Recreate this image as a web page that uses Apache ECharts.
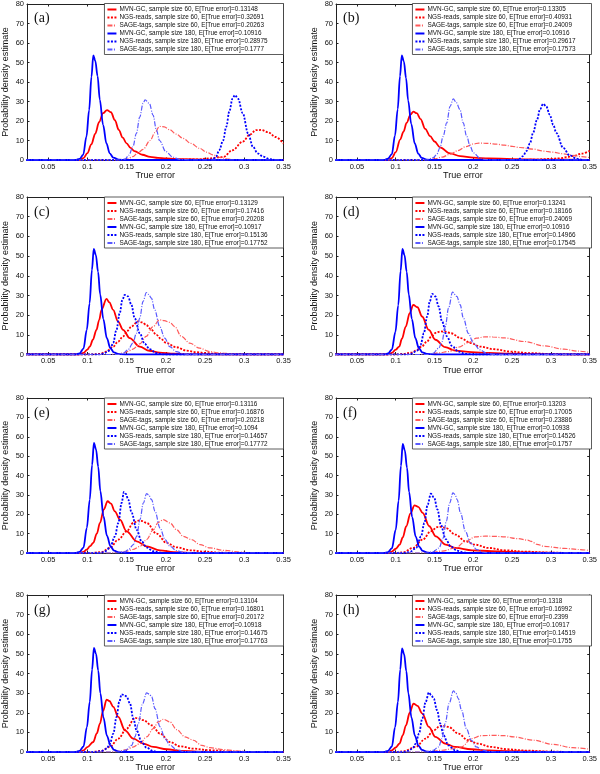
<!DOCTYPE html>
<html>
<head>
<meta charset="utf-8">
<script src="https://cdn.jsdelivr.net/npm/echarts@6/dist/echarts.min.js"></script>
<style>
html,body{margin:0;padding:0;background:#fff;}
#chart{width:600px;height:774px;}
</style>
</head>
<body>
<div id="chart"></div>
<script>
// ---------- tick labels / categories ----------
const xTickValues = [0.05, 0.1, 0.15, 0.2, 0.25, 0.3, 0.35];
const xMin = 0.023, xMax = 0.35;
const yMin = 0, yMax = 80, yStep = 10;
const panelLabels = ['(a)', '(b)', '(c)', '(d)', '(e)', '(f)', '(g)', '(h)'];
const methods = ['MVN-GC', 'NGS-reads', 'SAGE-tags'];
const sampleSizes = [60, 180];

// E[True error] values printed in each legend (order: MVN60, NGS60, SAGE60, MVN180, NGS180, SAGE180)
const err_a = ['0.13148', '0.32691', '0.20263', '0.10916', '0.28975', '0.1777'];
const err_b = ['0.13305', '0.40931', '0.24009', '0.10916', '0.29617', '0.17573'];
const err_c = ['0.13129', '0.17416', '0.20208', '0.10917', '0.15136', '0.17752'];
const err_d = ['0.13241', '0.18166', '0.24069', '0.10916', '0.14966', '0.17545'];
const err_e = ['0.13116', '0.16876', '0.20218', '0.1094', '0.14657', '0.17772'];
const err_f = ['0.13203', '0.17005', '0.23886', '0.10938', '0.14526', '0.1757'];
const err_g = ['0.13104', '0.16801', '0.20172', '0.10918', '0.14675', '0.17763'];
const err_h = ['0.1318', '0.16992', '0.2399', '0.10917', '0.14519', '0.1755'];

// ---------- density curves [true error, density] ----------
// (a)
const a_mvn60 = [[0.02,0],[0.09,0],[0.095,1],[0.1,3.5],[0.105,8],[0.11,13.5],[0.115,19.5],[0.12,24],[0.125,25.6],[0.13,24.5],[0.135,20.5],[0.14,15.5],[0.145,11.5],[0.15,8.5],[0.155,6.2],[0.16,4.6],[0.17,2.7],[0.18,1.6],[0.19,1.1],[0.2,0.8],[0.22,0.4],[0.25,0.15],[0.28,0],[0.35,0]];
const a_ngs60 = [[0.02,0],[0.2,0],[0.24,0.3],[0.255,0.8],[0.265,1.3],[0.273,1.5],[0.285,5],[0.298,9.4],[0.307,13],[0.315,15.3],[0.322,15.4],[0.33,14.3],[0.34,11.8],[0.35,8.4]];
const a_sage60 = [[0.02,0],[0.14,0],[0.15,0.4],[0.158,1.7],[0.164,3.5],[0.171,5.5],[0.18,10],[0.186,14],[0.192,17.2],[0.198,17],[0.205,15.5],[0.213,13.3],[0.222,11.1],[0.232,8.5],[0.243,6],[0.252,4],[0.26,2.6],[0.27,1.2],[0.28,0.4],[0.29,0],[0.35,0]];
const a_mvn180 = [[0.02,0],[0.085,0],[0.09,0.6],[0.0946,2.6],[0.0988,12],[0.1022,25.6],[0.1052,42.7],[0.1075,53.7],[0.11,51],[0.113,43],[0.1158,31],[0.12,18],[0.1243,8.5],[0.1285,3.4],[0.133,1.2],[0.14,0.2],[0.15,0],[0.35,0]];
const a_ngs180 = [[0.02,0],[0.255,0],[0.26,0.3],[0.264,1.7],[0.268,5],[0.273,10],[0.277,17],[0.281,25],[0.285,31.5],[0.288,33.3],[0.292,31.5],[0.298,24],[0.305,13.5],[0.311,6.8],[0.317,3.4],[0.324,1.7],[0.332,0.5],[0.34,0],[0.35,0]];
const a_sage180 = [[0.02,0],[0.14,0],[0.148,0.5],[0.153,2.5],[0.158,6.8],[0.1625,13.7],[0.1667,22],[0.171,29],[0.1735,30.8],[0.179,29],[0.1837,23],[0.188,15.4],[0.192,10],[0.2,4.3],[0.209,1.4],[0.218,0.3],[0.23,0],[0.35,0]];
// (b)
const b_mvn60 = [[0.02,0],[0.09,0],[0.095,1],[0.1,4],[0.1057,10.5],[0.11,14.5],[0.114,19],[0.119,23.3],[0.1228,24.8],[0.127,24],[0.132,21],[0.138,16],[0.1443,12.2],[0.15,9.5],[0.157,6.5],[0.17,3.4],[0.183,2],[0.2,1.2],[0.22,0.8],[0.25,0.5],[0.3,0.2],[0.35,0.05]];
const b_ngs60 = [[0.02,0],[0.26,0],[0.28,0.2],[0.29,0.4],[0.3,0.6],[0.311,0.85],[0.32,1.4],[0.328,2],[0.34,3.3],[0.35,4.7]];
const b_sage60 = [[0.02,0],[0.13,0],[0.14,0.2],[0.15,0.6],[0.16,1.5],[0.17,3],[0.18,4.8],[0.19,6.8],[0.2,8.2],[0.207,8.7],[0.22,8.5],[0.23,8.1],[0.24,7.6],[0.25,7],[0.26,6.4],[0.277,5.6],[0.29,4.6],[0.303,4],[0.315,3.2],[0.328,2.4],[0.34,1.7],[0.35,1.2]];
const b_mvn180 = [[0.02,0],[0.085,0],[0.09,0.7],[0.095,3],[0.099,12.5],[0.1025,26],[0.1055,43],[0.1078,53.7],[0.1105,50.5],[0.1133,42],[0.116,30.5],[0.12,18.5],[0.1245,8.5],[0.129,3.3],[0.1335,1.1],[0.14,0.2],[0.15,0],[0.35,0]];
const b_ngs180 = [[0.02,0],[0.255,0],[0.26,0.7],[0.264,2],[0.2685,4.6],[0.273,8.5],[0.277,13.9],[0.282,20.5],[0.286,26],[0.29,28.8],[0.294,27.5],[0.2985,23.2],[0.303,18],[0.307,13.9],[0.3157,6.3],[0.3242,2.4],[0.333,0.7],[0.34,0.1],[0.35,0]];
const b_sage180 = [[0.02,0],[0.14,0],[0.1485,1.2],[0.153,3],[0.157,6.3],[0.161,12],[0.1657,19],[0.17,27.5],[0.1742,31.3],[0.178,29.5],[0.1828,25.8],[0.187,19],[0.1914,12.2],[0.196,7],[0.2,3.7],[0.2085,1],[0.215,0.3],[0.225,0],[0.35,0]];
// (c)
const c_mvn60 = [[0.02,0],[0.09,0],[0.095,0.8],[0.1,2.5],[0.103,4],[0.107,7.5],[0.1115,12.5],[0.115,17.5],[0.118,22.7],[0.1243,28.3],[0.128,26.5],[0.1328,22.7],[0.139,16.8],[0.1455,12.5],[0.154,8.3],[0.1667,4],[0.179,1.9],[0.192,1],[0.21,0.4],[0.23,0.1],[0.25,0],[0.35,0]];
const c_ngs60 = [[0.02,0],[0.105,0],[0.1158,0.3],[0.124,1.5],[0.1328,4],[0.139,6.5],[0.1455,9.2],[0.151,12],[0.156,14.2],[0.1646,16.8],[0.17,16.3],[0.175,15],[0.181,12.8],[0.188,10],[0.194,7.8],[0.2007,5.8],[0.2134,3.7],[0.226,2],[0.239,1.2],[0.2516,0.7],[0.27,0.2],[0.29,0],[0.35,0]];
const c_sage60 = [[0.02,0],[0.13,0],[0.137,0.2],[0.1455,0.7],[0.152,1.6],[0.158,2.7],[0.1667,5.4],[0.175,9.2],[0.1837,14.2],[0.192,17.6],[0.198,17.2],[0.205,16.3],[0.2113,14.2],[0.2198,9.2],[0.2304,5.8],[0.2431,3.2],[0.2558,1.5],[0.2686,0.8],[0.2856,0.3],[0.3,0],[0.35,0]];
const c_mvn180 = [[0.02,0],[0.085,0],[0.09,0.6],[0.095,3],[0.0992,12.5],[0.1028,26],[0.1058,43],[0.1081,53.6],[0.1108,50.5],[0.1136,42],[0.1163,30.5],[0.1203,18],[0.1248,8.3],[0.1293,3.2],[0.1338,1.1],[0.14,0.2],[0.15,0],[0.35,0]];
const c_ngs180 = [[0.02,0],[0.115,0],[0.12,0.4],[0.1285,2],[0.1328,5.8],[0.137,12.5],[0.1412,21],[0.1446,27.8],[0.1476,30.3],[0.1518,29.5],[0.156,25.3],[0.1603,18.5],[0.1667,10.8],[0.173,5.4],[0.1794,2.7],[0.188,0.7],[0.195,0.1],[0.2,0],[0.35,0]];
const c_sage180 = [[0.02,0],[0.14,0],[0.1455,0.6],[0.152,2.5],[0.158,5.8],[0.1625,10.8],[0.1667,18.5],[0.171,27],[0.1752,31.5],[0.178,30.5],[0.1816,28.6],[0.1858,22.7],[0.1922,14.2],[0.1986,8.3],[0.205,4],[0.2134,1.5],[0.222,0.4],[0.23,0],[0.35,0]];
// (d)
const d_mvn60 = [[0.02,0],[0.09,0],[0.095,0.8],[0.1,2.5],[0.1044,4],[0.108,8],[0.1129,14.2],[0.118,21],[0.1226,25.2],[0.128,24],[0.134,19.3],[0.1426,12.5],[0.1511,7.5],[0.1638,3.7],[0.1766,2],[0.1978,1.2],[0.22,0.8],[0.25,0.4],[0.28,0.15],[0.32,0],[0.35,0]];
const d_ngs60 = [[0.02,0],[0.1,0],[0.11,0.3],[0.1207,1],[0.127,2.2],[0.1334,4],[0.14,6.5],[0.1461,9.2],[0.1515,11],[0.1575,11.7],[0.164,11.6],[0.1712,10.8],[0.1839,8.3],[0.1966,5.8],[0.2093,4],[0.2263,2.7],[0.2475,1.5],[0.2729,0.7],[0.3,0.2],[0.33,0],[0.35,0]];
const d_sage60 = [[0.02,0],[0.13,0],[0.145,0.3],[0.155,0.8],[0.168,1.5],[0.1808,3.7],[0.1936,6.1],[0.2042,8.3],[0.215,9],[0.225,8.9],[0.2403,8.4],[0.2658,6.6],[0.2913,4.4],[0.3168,2.7],[0.335,1.7],[0.35,1.1]];
const d_mvn180 = [[0.02,0],[0.085,0],[0.09,0.5],[0.095,2.5],[0.0996,11.5],[0.1032,25],[0.1063,42.5],[0.1086,53.6],[0.1113,50.5],[0.1141,42],[0.1168,30.5],[0.1208,18],[0.1253,8.3],[0.1298,3.2],[0.1343,1.1],[0.14,0.3],[0.15,0],[0.35,0]];
const d_ngs180 = [[0.02,0],[0.115,0],[0.12,0.4],[0.1277,2],[0.132,4.9],[0.1362,10.8],[0.1405,19.3],[0.1439,27],[0.1469,30.8],[0.1511,29.5],[0.1553,24.4],[0.1596,16.8],[0.166,9.2],[0.1723,4.4],[0.1808,1.5],[0.19,0.3],[0.2,0],[0.35,0]];
const d_sage180 = [[0.02,0],[0.14,0],[0.148,0.6],[0.1554,3.2],[0.1596,6.6],[0.1639,14.2],[0.1681,23.6],[0.1732,31.7],[0.1787,29.5],[0.183,25.3],[0.1872,18.5],[0.1936,10.8],[0.2,5.8],[0.2084,2.4],[0.2169,0.7],[0.225,0.1],[0.23,0],[0.35,0]];
// (e)
const e_mvn60 = [[0.02,0],[0.09,0],[0.095,0.6],[0.099,1.7],[0.1035,3.5],[0.1074,5.2],[0.112,10],[0.116,15.5],[0.121,22.5],[0.1257,26.7],[0.13,25.5],[0.135,21.5],[0.1415,17.2],[0.15,11.2],[0.1628,6],[0.1755,3.4],[0.1925,1.4],[0.21,0.5],[0.23,0.1],[0.25,0],[0.35,0]];
const e_ngs60 = [[0.02,0],[0.105,0],[0.118,0.5],[0.1287,2.6],[0.1394,6.9],[0.15,11.2],[0.1585,15.5],[0.1649,16.7],[0.17,16.5],[0.1755,15.5],[0.1883,10],[0.201,5.2],[0.2138,2.9],[0.2309,1.4],[0.2479,0.7],[0.27,0.2],[0.29,0],[0.35,0]];
const e_sage60 = [[0.02,0],[0.13,0],[0.14,0.3],[0.15,0.9],[0.158,1.8],[0.167,3.4],[0.1755,6.9],[0.184,12],[0.1904,15.8],[0.1968,17.2],[0.2053,15.5],[0.2138,12],[0.2223,8.6],[0.233,6.9],[0.2436,4.3],[0.2564,2.6],[0.2734,1.4],[0.2947,0.5],[0.31,0],[0.35,0]];
const e_mvn180 = [[0.02,0],[0.085,0],[0.09,0.6],[0.095,2.8],[0.0993,13],[0.103,27.5],[0.106,45.5],[0.1083,56.8],[0.111,53.5],[0.1138,44.5],[0.1165,32],[0.1205,19],[0.125,8.8],[0.1295,3.4],[0.134,1.2],[0.14,0.3],[0.15,0],[0.35,0]];
const e_ngs180 = [[0.02,0],[0.115,0],[0.121,0.5],[0.1287,2.6],[0.1351,8.6],[0.1394,15.5],[0.1436,25.8],[0.1466,31.5],[0.149,30.5],[0.1521,27.5],[0.1564,20.7],[0.1628,12],[0.1691,6],[0.1755,2.9],[0.184,0.9],[0.192,0.2],[0.2,0],[0.35,0]];
const e_sage180 = [[0.02,0],[0.14,0],[0.148,0.6],[0.153,2],[0.1585,4.3],[0.1628,8.6],[0.167,17.2],[0.1713,25.8],[0.1755,30.6],[0.178,30],[0.1819,27.5],[0.1862,21.5],[0.1926,12.9],[0.199,6.9],[0.2053,3.4],[0.2138,1.2],[0.222,0.3],[0.23,0],[0.35,0]];
// (f)
const f_mvn60 = [[0.02,0],[0.09,0],[0.095,0.7],[0.1,2.2],[0.1051,4.3],[0.109,8],[0.1136,13.8],[0.119,20.5],[0.1242,24.6],[0.129,23.8],[0.1347,20.7],[0.1432,13.8],[0.1517,8.6],[0.1644,4.3],[0.1771,2.6],[0.1983,1.4],[0.2237,0.9],[0.2534,0.5],[0.29,0.2],[0.33,0],[0.35,0]];
const f_ngs60 = [[0.02,0],[0.1,0],[0.11,0.4],[0.122,2.6],[0.1347,6.9],[0.1453,11.2],[0.1538,13.4],[0.159,13.5],[0.1644,12.9],[0.1771,9.5],[0.1898,6],[0.2025,4.3],[0.2195,2.6],[0.2407,1.4],[0.2661,0.7],[0.3,0.2],[0.33,0],[0.35,0]];
const f_sage60 = [[0.02,0],[0.13,0],[0.145,0.3],[0.16,1],[0.1771,2.6],[0.1898,6],[0.2025,8.3],[0.2153,8.7],[0.228,8.6],[0.2407,8.3],[0.2576,7.4],[0.27,6.6],[0.2746,6],[0.282,4.5],[0.2915,3.4],[0.3169,2.4],[0.335,1.8],[0.35,1.3]];
const f_mvn180 = [[0.02,0],[0.085,0],[0.09,0.5],[0.095,2.4],[0.1,12],[0.1037,27],[0.1067,45],[0.109,56.3],[0.1117,53],[0.1145,44],[0.1172,31.5],[0.1212,18.5],[0.1257,8.5],[0.1302,3.3],[0.1347,1.1],[0.141,0.2],[0.15,0],[0.35,0]];
const f_ngs180 = [[0.02,0],[0.11,0],[0.118,0.5],[0.1263,2.6],[0.1326,8.6],[0.1369,15.5],[0.1411,25],[0.1453,30.6],[0.1496,28.4],[0.1538,22.4],[0.158,14.6],[0.1644,7.2],[0.1708,3.4],[0.1792,1.2],[0.188,0.2],[0.195,0],[0.35,0]];
const f_sage180 = [[0.02,0],[0.14,0],[0.148,0.6],[0.1559,2.6],[0.161,7.7],[0.1652,16.4],[0.1695,25.8],[0.1737,31],[0.1765,30.2],[0.1792,27.5],[0.1835,20.7],[0.1898,11.2],[0.1962,5.2],[0.2047,1.7],[0.213,0.4],[0.22,0],[0.35,0]];
// (g)
const g_mvn60 = [[0.02,0],[0.09,0],[0.095,0.8],[0.1,2.5],[0.1074,5.1],[0.112,9.5],[0.116,14.5],[0.12,21],[0.1245,26.7],[0.128,26],[0.133,23],[0.1394,17.9],[0.1479,11],[0.1585,6.8],[0.1713,4.3],[0.184,2.6],[0.2011,1.4],[0.22,0.6],[0.24,0.2],[0.26,0],[0.35,0]];
const g_ngs60 = [[0.02,0],[0.105,0],[0.118,0.6],[0.1287,2.6],[0.1394,6.8],[0.15,11.9],[0.1606,17.4],[0.166,17],[0.1713,16.2],[0.1819,13.6],[0.1926,9.4],[0.2053,5.1],[0.218,2.9],[0.2351,1.7],[0.2564,0.9],[0.28,0.3],[0.3,0],[0.35,0]];
const g_sage60 = [[0.02,0],[0.13,0],[0.14,0.4],[0.15,1.2],[0.158,2.5],[0.167,4.3],[0.1755,7.7],[0.184,11.9],[0.1904,15.3],[0.1968,16.7],[0.2053,15.3],[0.2138,11.4],[0.2245,7.7],[0.2351,6],[0.2457,3.4],[0.2564,2.2],[0.2734,1.2],[0.2947,0.5],[0.31,0],[0.35,0]];
const g_mvn180 = [[0.02,0],[0.085,0],[0.09,0.6],[0.095,2.8],[0.0993,12.5],[0.103,25.5],[0.106,42],[0.1083,53.1],[0.111,50],[0.1138,41.5],[0.1165,30],[0.1205,17.5],[0.125,8.2],[0.1295,3.2],[0.134,1.1],[0.14,0.2],[0.15,0],[0.35,0]];
const g_ngs180 = [[0.02,0],[0.11,0],[0.118,0.5],[0.1245,1.7],[0.1287,4.3],[0.133,9.4],[0.1372,17.9],[0.1406,25.5],[0.1436,29.4],[0.147,29],[0.15,28.3],[0.1543,24.7],[0.1585,17],[0.1628,11],[0.1691,5.1],[0.1755,2.2],[0.184,0.5],[0.19,0],[0.35,0]];
const g_sage180 = [[0.02,0],[0.14,0],[0.148,0.8],[0.1564,3.4],[0.1606,7.7],[0.1649,14.5],[0.1704,24.7],[0.1755,30.1],[0.179,29.5],[0.1819,28.1],[0.1862,22.1],[0.1926,12.8],[0.1989,6.8],[0.2053,3.4],[0.2138,1.2],[0.222,0.3],[0.23,0],[0.35,0]];
// (h)
const h_mvn60 = [[0.02,0],[0.09,0],[0.095,0.8],[0.1,2.3],[0.1048,4.3],[0.109,8.5],[0.1132,13.6],[0.118,20],[0.1229,24.7],[0.128,23.5],[0.1342,19.6],[0.1427,12.8],[0.1511,7.7],[0.1637,4.3],[0.1764,2.6],[0.1974,1.4],[0.22,0.8],[0.25,0.4],[0.28,0.15],[0.32,0],[0.35,0]];
const h_ngs60 = [[0.02,0],[0.1,0],[0.11,0.4],[0.1258,2.6],[0.1384,6.8],[0.1489,11],[0.1574,13.3],[0.162,13.3],[0.168,12.8],[0.1806,9.4],[0.1932,6],[0.2058,4.3],[0.2227,2.6],[0.2437,1.4],[0.269,0.7],[0.3,0.2],[0.33,0],[0.35,0]];
const h_sage60 = [[0.02,0],[0.13,0],[0.145,0.3],[0.16,0.9],[0.172,1.6],[0.1848,2.6],[0.1974,6.8],[0.21,8.3],[0.2269,8.5],[0.24,8.3],[0.2522,7.7],[0.2775,6],[0.3027,3.9],[0.328,2.2],[0.35,1.4]];
const h_mvn180 = [[0.02,0],[0.085,0],[0.09,0.6],[0.095,2.8],[0.0991,12.5],[0.1028,25.5],[0.1058,42],[0.1081,52.8],[0.1108,49.8],[0.1136,41.3],[0.1163,29.8],[0.1203,17.5],[0.1248,8.2],[0.1293,3.2],[0.1338,1.1],[0.14,0.2],[0.15,0],[0.35,0]];
const h_ngs180 = [[0.02,0],[0.11,0],[0.116,0.5],[0.1216,1.7],[0.1258,4.3],[0.13,9.4],[0.1342,17],[0.1385,25.5],[0.1427,30.3],[0.146,28.8],[0.149,27.2],[0.1532,21.3],[0.1574,14.5],[0.1616,8.5],[0.1679,3.4],[0.1764,0.9],[0.184,0.1],[0.19,0],[0.35,0]];
const h_sage180 = [[0.02,0],[0.14,0],[0.148,0.8],[0.1553,2.6],[0.1595,6.8],[0.1637,14.5],[0.1688,24.7],[0.1743,31.1],[0.1775,30],[0.1806,27.2],[0.1848,21.3],[0.1911,11.9],[0.1974,6],[0.2037,2.6],[0.2122,0.9],[0.22,0.2],[0.23,0],[0.35,0]];

// ---------- assemble ----------
const panelErrors = [err_a, err_b, err_c, err_d, err_e, err_f, err_g, err_h];
const panelCurves = [
  [a_mvn60, a_ngs60, a_sage60, a_mvn180, a_ngs180, a_sage180],
  [b_mvn60, b_ngs60, b_sage60, b_mvn180, b_ngs180, b_sage180],
  [c_mvn60, c_ngs60, c_sage60, c_mvn180, c_ngs180, c_sage180],
  [d_mvn60, d_ngs60, d_sage60, d_mvn180, d_ngs180, d_sage180],
  [e_mvn60, e_ngs60, e_sage60, e_mvn180, e_ngs180, e_sage180],
  [f_mvn60, f_ngs60, f_sage60, f_mvn180, f_ngs180, f_sage180],
  [g_mvn60, g_ngs60, g_sage60, g_mvn180, g_ngs180, g_sage180],
  [h_mvn60, h_ngs60, h_sage60, h_mvn180, h_ngs180, h_sage180]
];

// layout (pixels)
const colLeft = [27, 336];
const colWidth = [256.5, 255.5];
const rowTop = [3.5, 197, 398, 595];
const rowHeight = [156.5, 157.5, 155, 157];

const lineStyles = [
  { color: '#ff0000', type: 'solid', width: 1.8 },
  { color: '#ff0000', type: [2, 1.5], width: 1.8 },
  { color: '#ff5a5a', type: [5, 1.5, 1, 1.5], width: 1.2 },
  { color: '#0000ff', type: 'solid', width: 1.8 },
  { color: '#0000ff', type: [2, 1.5], width: 1.8 },
  { color: '#5a5aff', type: [5, 1.5, 1, 1.5], width: 1.2 }
];

const FONT = '"Liberation Sans", Arial, Helvetica, sans-serif';
const grids = [], xAxes = [], yAxes = [], series = [], legends = [], graphics = [];

panelLabels.forEach((lab, p) => {
  const col = p % 2, row = Math.floor(p / 2);
  const left = colLeft[col], top = rowTop[row], w = colWidth[col], h = rowHeight[row];
  grids.push({ left: left, top: top, width: w, height: h, containLabel: false });

  const axisLineStyle = { color: '#222', width: 1 };
  xAxes.push({
    type: 'value', gridIndex: p, min: xMin, max: xMax, position: 'bottom',
    axisLine: { show: true, onZero: false, lineStyle: axisLineStyle },
    axisTick: { show: true, inside: true, length: 2.5, customValues: xTickValues, lineStyle: axisLineStyle },
    axisLabel: { show: true, customValues: xTickValues, fontSize: 7.5, margin: 2.5, color: '#111', fontFamily: FONT },
    splitLine: { show: false },
    name: 'True error', nameLocation: 'middle', nameGap: 7,
    nameTextStyle: { fontSize: 9, color: '#111', fontFamily: FONT, verticalAlign: 'top' }
  });
  xAxes.push({
    type: 'value', gridIndex: p, min: xMin, max: xMax, position: 'top',
    axisLine: { show: true, onZero: false, lineStyle: axisLineStyle },
    axisTick: { show: true, inside: true, length: 2.5, customValues: xTickValues, lineStyle: axisLineStyle },
    axisLabel: { show: false }, splitLine: { show: false }
  });
  yAxes.push({
    type: 'value', gridIndex: p, min: yMin, max: yMax, interval: yStep, position: 'left',
    axisLine: { show: true, onZero: false, lineStyle: axisLineStyle },
    axisTick: { show: true, inside: true, length: 2.5, lineStyle: axisLineStyle },
    axisLabel: { show: true, fontSize: 7.5, margin: 3, color: '#111', fontFamily: FONT },
    splitLine: { show: false },
    name: 'Probability density estimate', nameLocation: 'middle', nameGap: 17,
    nameTextStyle: { fontSize: 9, color: '#111', fontFamily: FONT }
  });
  yAxes.push({
    type: 'value', gridIndex: p, min: yMin, max: yMax, interval: yStep, position: 'right',
    axisLine: { show: true, onZero: false, lineStyle: axisLineStyle },
    axisTick: { show: true, inside: true, length: 2.5, lineStyle: axisLineStyle },
    axisLabel: { show: false }, splitLine: { show: false }
  });

  const names = [];
  panelCurves[p].forEach((curve, k) => {
    const m = methods[k % 3], s = sampleSizes[Math.floor(k / 3)];
    const name = m + ', sample size ' + s + ', E[True error]=' + panelErrors[p][k];
    names.push(name);
    series.push({
      type: 'line', name: name, data: curve,
      xAxisIndex: 2 * p, yAxisIndex: 2 * p,
      symbol: 'none', smooth: 0.35, smoothMonotone: 'x',
      lineStyle: lineStyles[k], itemStyle: { color: lineStyles[k].color },
      z: 2 + k, animation: false, silent: true
    });
  });

  legends.push({
    data: names, orient: 'vertical', right: 600 - (left + w), top: top,
    backgroundColor: '#fff', borderColor: '#333', borderWidth: 0.8,
    padding: [2, 16, 1, 2], itemGap: 0, itemWidth: 9, itemHeight: 6,
    selectedMode: false, align: 'left',
    itemStyle: { opacity: 0, borderWidth: 0 },
    textStyle: { fontSize: 6.4, lineHeight: 8, color: '#111', fontFamily: FONT, padding: [0, 0, 0, -2] }
  });

  graphics.push({
    type: 'text', left: left + 7, top: top + 8,
    style: { text: lab, font: '14px "Liberation Serif", "Times New Roman", serif', fill: '#111' }
  });
});

const chart = echarts.init(document.getElementById('chart'), null, { renderer: 'canvas' });
chart.setOption({
  backgroundColor: '#fff',
  animation: false,
  grid: grids, xAxis: xAxes, yAxis: yAxes,
  legend: legends, series: series, graphic: graphics
});
</script>
</body>
</html>
